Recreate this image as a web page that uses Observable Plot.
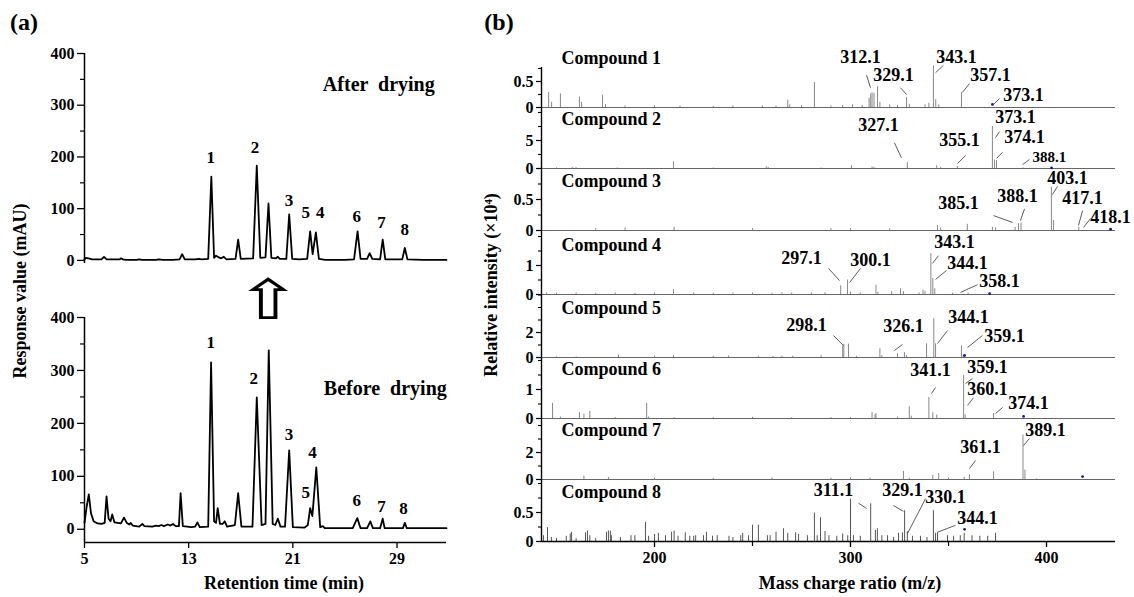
<!DOCTYPE html>
<html><head><meta charset="utf-8">
<script src="https://cdn.jsdelivr.net/npm/d3@7"></script>
<script src="https://cdn.jsdelivr.net/npm/@observablehq/plot@0.6"></script>
<style>
body{margin:0;background:#fff;}
#root{position:relative;width:1134px;height:597px;overflow:hidden;font-family:"Liberation Serif","Times New Roman",serif;font-weight:bold;color:#000;}
#root svg{position:absolute;}
.t{position:absolute;white-space:pre;transform:translate(-50%,-50%);font-size:18px;line-height:1;}
.r{transform:translate(-50%,-50%) rotate(-90deg);}
</style></head><body><div id="root"></div>
<script>
// ---------- Panel (a): chromatograms ----------
const timeTicks = [5, 13, 21, 29];
const respTicks = [0, 100, 200, 300, 400];
const respMinor = [50, 150, 250, 350];

// [retention time (min), response (mAU)]
const afterTrace = [[5.0,2],[5.1,5],[5.3,4],[5.6,2],[6.3,2],[6.5,7],[6.7,2],[7.7,2],[7.8,4],[7.95,2],[8.2,1],[9.0,1],[9.2,2],[9.4,1],[10.5,1],[10.7,2],[11.0,1],[11.8,1],[12.3,2],[12.5,12],[12.7,2],[13.5,2],[13.8,3],[14.0,2],[14.5,3],[14.74,162],[14.95,5],[15.1,9],[15.3,6],[15.5,4],[15.7,7],[15.9,2],[16.6,3],[16.8,40],[17.0,3],[17.95,4],[18.23,183],[18.5,5],[18.9,6],[19.13,110],[19.35,5],[19.7,4],[19.85,7],[20.0,3],[20.5,3],[20.72,89],[20.95,3],[21.5,2],[22.1,3],[22.33,56],[22.52,12],[22.77,54],[23.0,3],[23.5,1],[25.0,1],[25.7,2],[25.97,56],[26.2,3],[26.7,3],[26.9,14],[27.1,3],[27.7,2],[27.9,40],[28.1,2],[29.4,2],[29.6,24],[29.8,2],[31,1],[32.8,1]];
const beforeTrace = [[5.0,12],[5.15,40],[5.33,66],[5.5,30],[5.7,15],[6.0,11],[6.3,10],[6.55,12],[6.69,62],[6.85,20],[7.0,15],[7.13,28],[7.3,13],[7.8,11],[8.03,22],[8.25,12],[8.45,9],[8.54,12],[8.7,7],[9.2,5],[9.44,10],[9.6,6],[10.2,5],[10.5,7],[10.7,6],[10.9,8],[11.1,6],[11.4,9],[11.6,7],[11.8,10],[12.0,6],[12.25,6],[12.38,68],[12.55,6],[12.9,5],[13.2,4],[13.5,5],[13.67,13],[13.85,4],[14.5,5],[14.72,315],[14.95,15],[15.1,12],[15.23,40],[15.4,10],[15.6,10],[15.77,15],[15.95,5],[16.55,8],[16.8,68],[17.05,5],[17.9,5],[18.23,249],[18.6,8],[18.9,10],[19.15,338],[19.45,10],[19.65,8],[19.85,20],[20.05,5],[20.4,5],[20.72,149],[21.0,4],[21.9,3],[22.15,8],[22.33,40],[22.5,25],[22.8,117],[23.1,4],[23.3,6],[23.45,2],[25.6,2],[25.95,21],[26.2,2],[26.7,2],[26.95,15],[27.15,2],[27.7,2],[27.9,20],[28.05,2],[29.45,2],[29.6,12],[29.75,2],[32.8,2]];

// peak labels: [compound number, time, response]
const afterLabels = [["1",14.7,199],["2",18.1,218],["3",20.7,116],["5",22.0,93],["4",23.1,93],["6",25.9,85],["7",27.8,73],["8",29.6,60]];
const beforeLabels = [["1",14.7,353],["2",18.0,285],["3",20.7,179],["4",22.5,145],["5",22.0,70],["6",25.9,55],["7",27.8,43],["8",29.5,40]];
const conditionLabels = [{t:27.6, v:340, s:"After  drying"}, {t:28.1, v:266, s:"Before  drying"}];
const arrowNote = [{t:19.08, v:430, s:"\u21E7"}];

// ---------- Panel (b): mass spectra ----------
const compounds = ["Compound 1","Compound 2","Compound 3","Compound 4","Compound 5","Compound 6","Compound 7","Compound 8"];
const mzTicks = [200, 300, 400];
const mzMinor = [250, 350];
const intensityStep = [0.5, 5, 0.5, 1, 2, 1, 2, 0.5];
const intensityMax = [0.769, 10.89, 1.0, 2.207, 5.04, 2.103, 4.52, 1.069];

// [m/z, relative intensity]
const spec1 = [[146,0.29],[147.5,0.1],[152,0.26],[161.7,0.2],[162.8,0.1],[173.5,0.24],[175,0.06],[185,0.03],[200,0.03],[213,0.03],[230,0.02],[240,0.03],[255,0.03],[262,0.03],[268,0.14],[269,0.05],[275,0.03],[281.6,0.48],[290,0.03],[296,0.04],[301,0.05],[306,0.04],[309.5,0.18],[310.3,0.26],[311,0.28],[312,0.27],[313.8,0.4],[315,0.1],[320,0.05],[324,0.04],[328.6,0.19],[330,0.06],[338,0.05],[340,0.08],[342.3,0.8],[343.5,0.15],[345,0.05],[356.6,0.29]];
const spec2 = [[150,0.1],[158,0.2],[160,0.15],[181,0.1],[209.7,1.2],[230,0.1],[257,0.3],[258,0.2],[285,0.1],[300.5,0.5],[311,0.3],[312,0.2],[329,1.1],[344,0.5],[346,0.2],[354.5,0.35],[372.4,7.5],[373.5,1.5],[374.5,1.4],[388,0.1]];
const spec3 = [[170,0.03],[185,0.04],[210,0.05],[250,0.03],[290,0.03],[300,0.03],[320,0.03],[344.4,0.08],[346,0.04],[359.6,0.1],[372.4,0.05],[374,0.04],[384,0.05],[385.7,0.11],[387,0.12],[402.5,0.7],[403.6,0.16],[416.5,0.05]];
const spec4 = [[145,0.05],[150,0.04],[160,0.05],[170,0.04],[180,0.05],[190,0.04],[200,0.05],[209.7,0.17],[220,0.05],[230,0.04],[240,0.05],[250,0.05],[260,0.04],[265,0.06],[270,0.05],[280,0.05],[287,0.06],[295,0.3],[298.5,0.5],[300,0.08],[305,0.05],[313,0.32],[314,0.08],[321,0.1],[325.5,0.2],[327,0.1],[335,0.05],[337,0.15],[338,0.1],[341,1.41],[342,0.55],[343,0.2],[352,0.04],[360,0.04]];
const spec5 = [[150,0.05],[160,0.05],[181.6,0.2],[200,0.1],[209.7,0.15],[230,0.08],[237.8,0.12],[253,0.1],[260.5,0.08],[265,0.1],[270.5,0.1],[285,0.15],[296,0.93],[296.6,1.06],[299,1.07],[303,0.1],[315,0.7],[316,0.15],[324,0.3],[327.5,0.4],[328.5,0.15],[338.8,1.1],[342.5,3.1],[343.4,1.1],[356.6,0.93],[357.5,0.2]];
const spec6 = [[148,0.52],[152,0.05],[161.7,0.2],[164,0.15],[167,0.24],[180,0.03],[196,0.52],[197,0.05],[210,0.03],[230,0.03],[250,0.04],[270,0.03],[290,0.03],[300,0.03],[311,0.2],[312.5,0.12],[313,0.17],[324,0.05],[330,0.4],[331,0.08],[340,0.72],[342,0.2],[344,0.12],[357.7,1.48],[358.5,0.12],[373,0.17]];
const spec7 = [[164,0.25],[176.5,0.15],[200,0.1],[230,0.08],[260,0.1],[290,0.1],[300,0.12],[310,0.1],[327,0.6],[330,0.1],[342,0.3],[345,0.45],[350,0.1],[358,0.15],[360.7,0.35],[373,0.57],[388,3.3],[389,0.7],[395,0.05]];
const spec8 = [[143.4,0.1],[145.4,0.24],[147.4,0.07],[150,0.05],[155,0.09],[157,0.13],[157.7,0.16],[160,0.05],[164.8,0.15],[165.8,0.18],[167,0.1],[170,0.05],[175.5,0.16],[176.5,0.18],[177.5,0.18],[178,0.1],[182.6,0.07],[188,0.1],[190,0.1],[195.4,0.33],[197,0.09],[200,0.12],[202,0.14],[205.6,0.1],[208.7,0.16],[210,0.18],[212,0.09],[215.7,0.15],[218,0.09],[220,0.09],[221,0.1],[225,0.1],[226.5,0.16],[229.6,0.09],[232,0.1],[238,0.09],[240,0.07],[244,0.1],[245,0.14],[248,0.1],[250,0.28],[253,0.28],[257.6,0.1],[259,0.1],[262,0.16],[265.8,0.22],[268,0.14],[272,0.15],[273.5,0.12],[278,0.1],[281.6,0.49],[283,0.1],[284.7,0.41],[287,0.17],[289,0.1],[293,0.09],[296,0.13],[298.6,0.1],[300,0.73],[301.5,0.1],[305,0.09],[310.3,0.65],[312.7,0.19],[313.7,0.22],[316,0.1],[318.9,0.1],[322,0.07],[324.5,0.14],[326.5,0.15],[327.6,0.53],[329,0.17],[331.6,0.09],[335.7,0.09],[339,0.07],[342.3,0.53],[343.4,0.14],[344.4,0.15],[349.5,0.1],[352.6,0.09],[356,0.1],[358,0.14],[362,0.1],[366,0.09],[370,0.09],[374,0.14]];
const spectra = [spec1, spec2, spec3, spec4, spec5, spec6, spec7, spec8];

// annotations: [label, label m/z, label intensity, leader x1, y1, x2, y2]
const ann1 = [["312.1",305.1,0.96,308.2,0.62,310.2,0.38],["329.1",321.9,0.62,325.5,0.38,328.6,0.25],["343.1",354.1,0.96,347.4,0.81,343.4,0.67],["357.1",371.4,0.62,360.7,0.46,357.1,0.29],["373.1",388.3,0.23,376,0.17,373,0.06]];
const ann2 = [["327.1",314.3,7.7,322.4,4.6,326,1.9],["355.1",355.6,5.0,358.7,2.3,354.6,0.9],["373.1",384.2,9.1,376,6.6,374,5.5],["374.1",388.8,5.6,377.6,2.9,374.5,1.8],["388.1",401.5,2.1,391.3,1.6,387.8,0.7]];
const ann3 = [["385.1",355.1,0.44,373,0.24,382.7,0.13],["388.1",385.2,0.56,388.8,0.35,386.7,0.16],["403.1",410.7,0.84,405.6,0.71,403,0.58],["417.1",418.4,0.52,418.4,0.32,416.3,0.08],["418.1",432.7,0.21,422.4,0.19,418.9,0.05]];
const ann4 = [["297.1",275,1.24,288.8,0.9,294.4,0.48],["300.1",310.2,1.17,305.1,0.9,299.5,0.41],["343.1",353,1.79,344.9,1.34,341.8,1.07],["344.1",359.7,1.07,349,0.83,343.4,0.52],["358.1",376,0.45,364.8,0.34,356.1,0.07]];
const ann5 = [["298.1",277.6,2.56,291.3,1.76,296.4,0.96],["326.1",327,2.48,326.5,1.04,322.4,0.56],["344.1",360.2,3.2,349.5,2.16,344.4,1.12],["359.1",378.6,1.68,367.3,1.76,359.7,0.8]];
const ann6 = [["341.1",340.8,1.66,343.4,1.07,341.3,0.86],["359.1",369.9,1.76,362.2,1.38,358.7,1.21],["360.1",369.9,1.0,362.8,0.72,359.7,0.45],["374.1",390.8,0.52,377.6,0.38,374,0.17]];
const ann7 = [["361.1",366.3,2.37,363.8,1.41,360.7,0.81],["389.1",399.5,3.63,391.3,3.04,388.3,2.52]];
const ann8 = [["311.1",291.3,0.88,304.1,0.66,308.2,0.57],["329.1",326.5,0.88,321.9,0.62,327,0.52],["330.1",348.5,0.76,338.3,0.74,329.1,0.14],["344.1",364.8,0.4,353.6,0.28,344.4,0.16]];
const annotations = [ann1, ann2, ann3, ann4, ann5, ann6, ann7, ann8];

// precursor markers: [m/z, intensity]
const precursors = [[372.4,0.06],[402.6,0.1],[432.7,0.02],[371,0.03],[358.2,0.16],[388.3,0.07],[418.4,0.22],[358.2,0.21]];

// ---------- layout ----------
const root = document.getElementById("root");
const serif = "Liberation Serif, Times New Roman, serif";
const baseStyle = {fontFamily: serif, fontWeight: "bold", background: "transparent", overflow: "visible", color: "#000"};
function place(svg, left, top) { svg.style.left = left + "px"; svg.style.top = top + "px"; root.appendChild(svg); return svg; }
function html(text, cx, cy, cls, size) {
  const d = document.createElement("div");
  d.className = "t " + (cls || "");
  d.textContent = text; d.style.left = cx + "px"; d.style.top = cy + "px";
  if (size) d.style.fontSize = size + "px";
  root.appendChild(d);
}
const xa = [5, 32.8];
const px = d => d[0], py = d => d[1];
const txt = {fontSize: 17, fontWeight: "bold", fontFamily: serif};
const plain = d => String(d);

// top chromatogram
place(Plot.plot({
  width: 480, height: 224, marginLeft: 84, marginRight: 34, marginTop: 13, marginBottom: 1,
  style: baseStyle,
  x: {domain: xa, axis: null}, y: {domain: [-6, 400]},
  marks: [
    Plot.axisY({ticks: respTicks, tickSize: 7, tickPadding: 3, fontSize: 16, fontWeight: "bold", label: null, strokeWidth: 1.3, tickFormat: plain}),
    Plot.axisY({ticks: respMinor, tickSize: 4, tickFormat: () => "", label: null, strokeWidth: 1.2}),
    Plot.ruleX([xa[0]], {strokeWidth: 1.5}),
    Plot.line(afterTrace, {x: px, y: py, stroke: "#000", strokeWidth: 1.8}),
    Plot.text(afterLabels, {x: d => d[1], y: d => d[2], text: d => d[0], ...txt}),
    Plot.text(conditionLabels.slice(0, 1), {x: "t", y: "v", text: "s", fontSize: 20, fontWeight: "bold", fontFamily: serif})
  ]
}), 0, 40);

// bottom chromatogram
const bottomSvg = place(Plot.plot({
  width: 480, height: 327, marginLeft: 84, marginRight: 34, marginTop: 47, marginBottom: 55,
  style: baseStyle,
  x: {domain: xa}, y: {domain: [-25, 400]},
  marks: [
    Plot.axisY({ticks: respTicks, tickSize: 7, tickPadding: 3, fontSize: 16, fontWeight: "bold", label: null, strokeWidth: 1.3, tickFormat: plain}),
    Plot.axisY({ticks: respMinor, tickSize: 4, tickFormat: () => "", label: null, strokeWidth: 1.2}),
    Plot.axisX({ticks: timeTicks, tickSize: 6, tickPadding: 4, fontSize: 16, fontWeight: "bold", label: null, strokeWidth: 1.3, tickFormat: plain}),
    Plot.ruleX([xa[0]], {strokeWidth: 1.5}),
    Plot.ruleY([-25], {strokeWidth: 1.5}),
    Plot.line(beforeTrace, {x: px, y: py, stroke: "#000", strokeWidth: 1.8}),
    Plot.text(beforeLabels, {x: d => d[1], y: d => d[2], text: d => d[0], ...txt}),
    Plot.text(conditionLabels.slice(1), {x: "t", y: "v", text: "s", fontSize: 20, fontWeight: "bold", fontFamily: serif}),
    Plot.text(arrowNote, {x: "t", y: "v", text: "s", fontSize: 46, fontWeight: "normal", fontFamily: "DejaVu Sans", fill: "#000"})
  ]
}), 0, 270);
// widen the hollow arrow glyph to the reference proportions
bottomSvg.querySelectorAll("text").forEach(t => {
  if (t.textContent === "\u21E7") {
    const tr = t.getAttribute("transform") || "";
    t.setAttribute("transform", tr + " scale(1.75,1.2)");
  }
});

// spectra panels
const baselines = [107, 168, 230, 294, 357, 418, 479, 541];
const tops = [67, 107, 168, 230, 294, 357, 418, 479];
const mzDomain = [142.35, 435.2];
spectra.forEach((spec, i) => {
  const last = i === spectra.length - 1;
  const h = baselines[i] - tops[i];
  const step = intensityStep[i];
  const minor = d3.range(step / 2, intensityMax[i] + 1e-9, step / 2).filter(v => Math.abs(v - step) > 1e-9);
  const marks = [
    Plot.axisY({ticks: [0, step], tickSize: 5, tickPadding: 3, fontSize: 16, fontWeight: "bold", label: null, strokeWidth: 1.2, tickFormat: plain}),
    Plot.axisY({ticks: minor, tickSize: 3, tickFormat: () => "", label: null, strokeWidth: 1.1}),
    Plot.ruleX(spec, {x: px, y1: 0, y2: py, stroke: last ? "#555" : "#888", strokeWidth: 1}),
    Plot.ruleY([0], {stroke: last ? "#000" : "#666", strokeWidth: last ? 1.4 : 1}),
    Plot.ruleX([mzDomain[0]], {strokeWidth: 1.4}),
    Plot.link(annotations[i], {x1: d => d[3], y1: d => d[4], x2: d => d[5], y2: d => d[6], stroke: "#333", strokeWidth: 0.8}),
    Plot.text(annotations[i], {x: d => d[1], y: d => d[2], text: d => d[0], fontSize: d => (i === 1 && d[0] === "388.1") ? 15 : 18, fontWeight: "bold", fontFamily: serif}),
    Plot.dot([precursors[i]], {x: px, y: py, r: 1.4, fill: "#1c1c8a", stroke: null}),
    Plot.text([compounds[i]], {frameAnchor: "bottom-left", dx: 20, dy: -44, text: d => d, textAnchor: "start", fontSize: 18, fontWeight: "bold", fontFamily: serif})
  ];
  if (last) {
    marks.push(Plot.axisX({ticks: mzTicks, tickSize: 6, tickPadding: 4, fontSize: 16, fontWeight: "bold", label: null, strokeWidth: 1.3, tickFormat: plain}));
    marks.push(Plot.axisX({ticks: mzMinor, tickSize: 5, tickFormat: () => "", label: null, strokeWidth: 1.2}));
  }
  place(Plot.plot({
    width: 654, height: h + (last ? 30 : 0), marginLeft: 61, marginRight: 19, marginTop: 0, marginBottom: last ? 30 : 0,
    style: baseStyle,
    x: last ? {domain: mzDomain} : {domain: mzDomain, axis: null},
    y: {domain: [0, intensityMax[i]]},
    marks
  }), 480, tops[i]);
});

// titles
html("(a)", 24, 22, "", 24);
html("(b)", 499, 22, "", 24);
html("Response value (mAU)", 20, 291, "r");
html("Retention time (min)", 284, 583);
html("Relative intensity (\u00D710\u2074)", 491, 285, "r");
html("Mass charge ratio (m/z)", 850, 583);
</script>
</body></html>
